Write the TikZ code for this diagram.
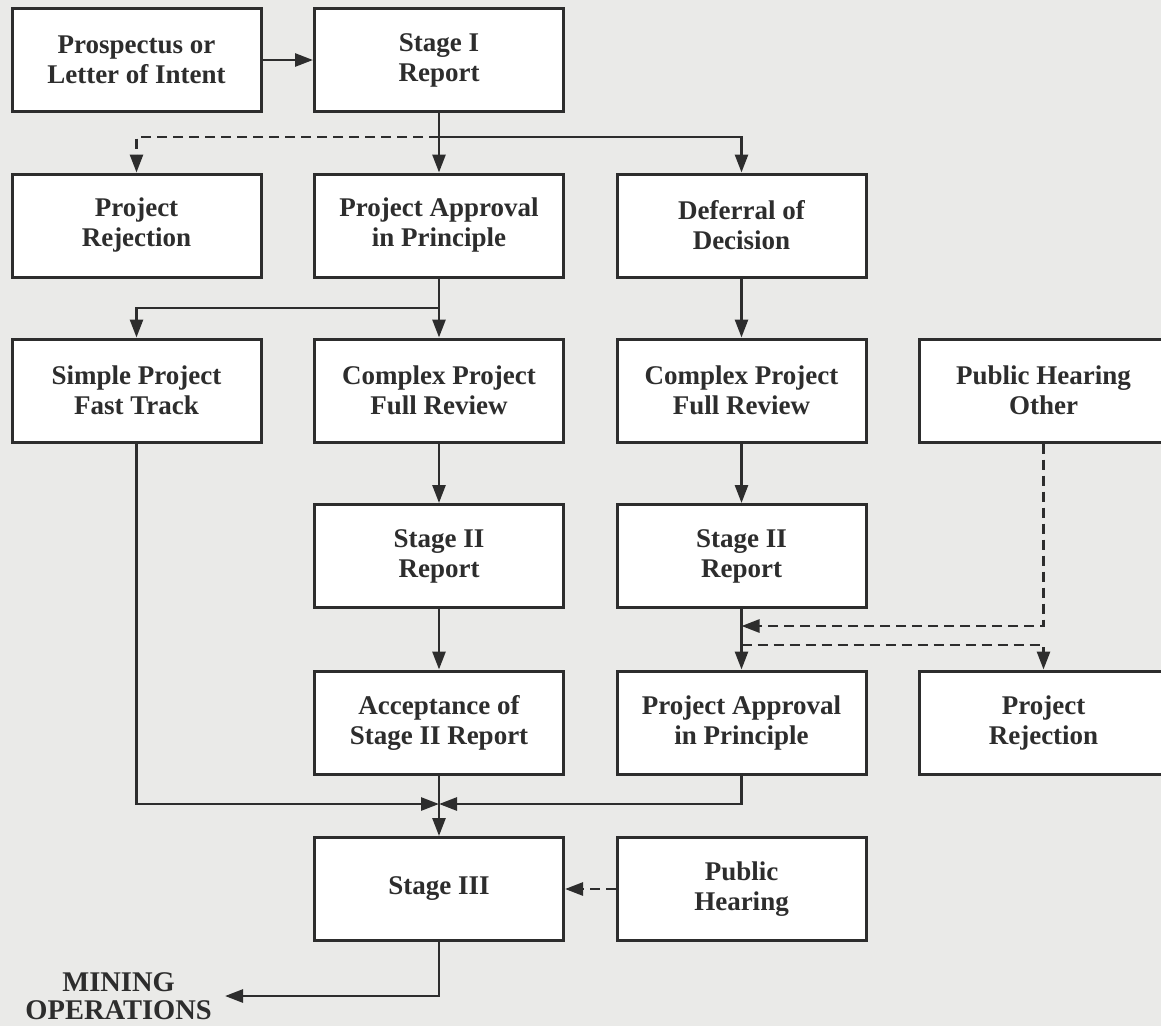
\documentclass[tikz,border=0pt]{standalone}
\usepackage{fontspec}
\setmainfont{Liberation Serif}
\usetikzlibrary{arrows.meta}
\definecolor{bg}{RGB}{234,234,232}
\definecolor{ink}{RGB}{45,45,45}
\begin{document}
\begin{tikzpicture}[x=1pt,y=-1pt,
  box/.style={draw=ink, fill=white, line width=3pt, minimum width=249pt,
    minimum height=103pt, inner sep=0pt, align=center,
    font=\fontsize{27}{30}\selectfont\bfseries, text=ink},
  conn/.style={draw=ink, line width=2.7pt, -{Triangle[length=18pt,width=13pt]}},
  dconn/.style={conn, dash pattern=on 10pt off 6pt},
]
\fill[bg] (0,0) rectangle (1161,1026);
\useasboundingbox (0,0) rectangle (1161,1026);

% row 1
\node[box] (pros) at (136.5,60) {Prospectus or\\Letter of Intent};
\node[box] (s1)   at (439,60)   {Stage I\\Report};
% row 2
\node[box] (rej1) at (136.5,225.5) {Project\\Rejection};
\node[box] (pa1)  at (439,225.5)   {Project Approval\\in Principle};
\node[box] (def)  at (741.5,225.5) {Deferral of\\Decision};
% row 3
\node[box] (simple) at (136.5,390.5) {Simple Project\\Fast Track};
\node[box] (cp2)    at (439,390.5)   {Complex Project\\Full Review};
\node[box] (cp3)    at (741.5,390.5) {Complex Project\\Full Review};
\node[box] (pho)    at (1043.5,390.5) {Public Hearing\\Other};
% row 4
\node[box] (s2a) at (439,556)   {Stage II\\Report};
\node[box] (s2b) at (741.5,556) {Stage II\\Report};
% row 5
\node[box] (acc)  at (439,722.5)    {Acceptance of\\Stage II Report};
\node[box] (pa2)  at (741.5,722.5)  {Project Approval\\in Principle};
\node[box] (rej2) at (1043.5,722.5) {Project\\Rejection};
% row 6
\node[box] (s3) at (439,889)   {Stage III};
\node[box] (ph) at (741.5,889) {Public\\Hearing};
% mining operations
\node[anchor=east, inner xsep=13pt, inner ysep=0pt, align=center, text=ink,
  font=\fontsize{28.5}{28}\selectfont\bfseries] (mine) at (225,996) {MINING\\OPERATIONS};

% junction points
\coordinate (j1) at (439,137);
\coordinate (j2) at (439,308);
\coordinate (j3) at (439,804);
\coordinate (k1) at (741.5,626);
\coordinate (k2) at (741.5,645);

% connectors
\draw[conn] (pros) -- (s1);
\draw[conn] (s1) -- (pa1);
\draw[dconn] (j1) -| (rej1);
\draw[conn] (j1) -| (def);
\draw[conn] (pa1) -- (cp2);
\draw[conn] (j2) -| (simple);
\draw[conn] (def) -- (cp3);
\draw[conn] (cp2) -- (s2a);
\draw[conn] (cp3) -- (s2b);
\draw[conn] (s2a) -- (acc);
\draw[conn] (s2b) -- (pa2);
\draw[dconn] (pho.south) |- (k1);
\draw[dconn] (k2) -| (rej2);
\draw[conn] (simple) |- (j3);
\draw[conn] (pa2) |- (j3);
\draw[conn] (acc) -- (s3);
\draw[dconn] (ph) -- (s3);
\draw[conn] (s3) |- (mine.east);
\end{tikzpicture}
\end{document}
